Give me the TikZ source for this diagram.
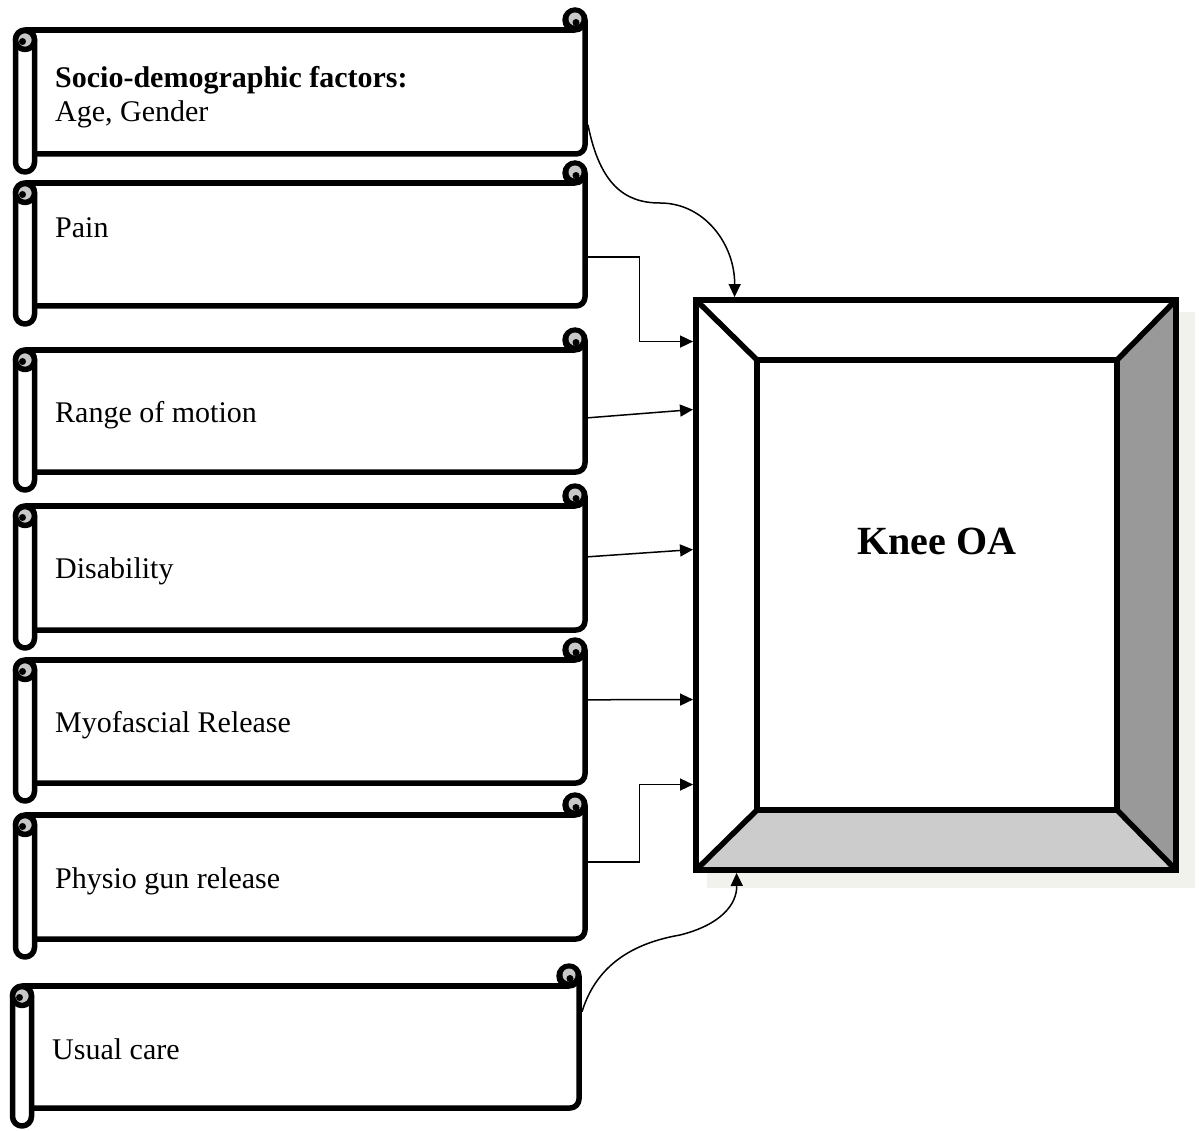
\documentclass[tikz,border=0pt]{standalone}
\usepackage{fontspec}
\setmainfont{Liberation Serif}
\usetikzlibrary{arrows.meta,calc}
\definecolor{curlgray}{RGB}{200,200,200}
\definecolor{sidegray}{RGB}{153,153,153}
\definecolor{botgray}{RGB}{204,204,204}
\definecolor{shadowc}{RGB}{242,242,236}
\tikzset{
  sl/.style={line width=5.5pt, line join=round},
  bev/.style={line width=5.5pt, line join=miter},
  lbl/.style={inner sep=0pt, font=\fontsize{30}{34}\selectfont, anchor=base west},
  conn/.style={line width=1.5pt, -{Triangle[length=13pt,width=12pt]}},
}
% #1 name, #2 roll centre x, #3 right edge x, #4 top y, #5 bottom y
\newcommand{\scrollshape}[5]{%
  \node[inner sep=0pt, minimum width={(#3+2.75-#2-9.5)*1pt}, minimum height={(#5-#4)*1pt}] (#1) at ({(#3+2.75+#2+9.5)/2},{(#4+#5)/2}) {};
  \draw[sl] (#2,#4) -- ({#3-10},#4);
  \draw[sl, rounded corners=9pt] (#3,{#4-10}) -- (#3,#5) -- ({#2+9.5},#5);
  \draw[sl, fill=white, rounded corners=9.5pt] ({#2-9.5},#4) rectangle ({#2+9.5},{#5+18});
  \draw[sl, fill=curlgray] (#2,{#4+10}) circle (9.5);
  \fill ({#2-2.5},{#4+11.5}) circle (3.5);
  \fill ({#3-10},{#4-10}) circle (12.75);
  \fill[curlgray] ({#3-10},{#4-11}) circle (6.5);
  \fill ({#3-9},{#4-7.5}) circle (3.5);
}
\begin{document}
\begin{tikzpicture}[x=1pt,y=-1pt]
\useasboundingbox (0,0) rectangle (1199,1131);

% scrolls
\scrollshape{b1}{25}{585}{30}{154}
\scrollshape{b2}{25}{585}{183}{306}
\scrollshape{b3}{25}{585}{350}{472}
\scrollshape{b4}{25}{585}{506}{630}
\scrollshape{b5}{25}{585}{660}{783}
\scrollshape{b6}{25}{585}{815}{939}
\scrollshape{b7}{22}{579}{986}{1108}

\node[lbl] (t1) at (55,88) {\textbf{Socio-demographic factors:}};
\node[lbl] (t1b) at (55,122) {Age, Gender};
\node[lbl] (t2) at (55,238) {Pain};
\node[lbl] (t3) at (55,422) {Range of motion};
\node[lbl] (t4) at (55,578) {Disability};
\node[lbl] (t5) at (55,732) {Myofascial Release};
\node[lbl] (t6) at (55,888) {Physio gun release};
\node[lbl] (t7) at (52,1059) {Usual care};

% Knee OA bevel box
\fill[shadowc] (707,312) rectangle (1195,888);
\node[inner sep=0pt, minimum width=485.5pt, minimum height=575.5pt] (koa) at (936,585) {};
\fill[white] (696,300) rectangle (1176,870);
\fill[sidegray] (1176,300) -- (1117,360) -- (1117,810) -- (1176,870) -- cycle;
\fill[botgray] (696,870) -- (757,810) -- (1117,810) -- (1176,870) -- cycle;
\draw[bev] (696,300) -- (757,360) (1176,300) -- (1117,360)
           (696,870) -- (757,810) (1176,870) -- (1117,810);
\draw[bev] (757,360) rectangle (1117,810);
\draw[bev] (696,300) rectangle (1176,870);
\node[font=\bfseries\fontsize{40}{48}\selectfont] (kt) at (937,541) {Knee OA};

% connectors
\coordinate (a1s) at ($(b1.north east)+(0,95)$);
\coordinate (a1e) at ($(koa.north west)+(41.5,0)$);
\draw[conn] (a1s) .. controls (600,185) and (625,203) .. (660,203)
                  .. controls (705,203) and (735,245) .. (a1e);

\coordinate (a2s) at ($(b2.north east)+(0,74)$);
\coordinate (a2e) at ($(koa.north west)+(0,44.5)$);
\draw[conn] (a2s) -| ($(a2e)+(-53.5,0)$) -- (a2e);

\coordinate (a3s) at ($(b3.north east)+(0,68)$);
\coordinate (a3e) at ($(koa.north west)+(0,112.5)$);
\draw[conn] (a3s) -- (a3e);

\coordinate (a4s) at ($(b4.north east)+(0,51)$);
\coordinate (a4e) at ($(koa.north west)+(0,252.5)$);
\draw[conn] (a4s) -- (a4e);

\coordinate (a5s) at ($(b5.north east)+(0,40)$);
\coordinate (a5e) at ($(koa.north west)+(0,402.5)$);
\draw[conn] (a5s) -- (a5e);

\coordinate (a6s) at ($(b6.north east)+(0,47)$);
\coordinate (a6e) at ($(koa.north west)+(0,487.5)$);
\draw[conn] (a6s) -| ($(a6e)+(-53.5,0)$) -- (a6e);

\coordinate (a7s) at ($(b7.north east)+(0,26)$);
\coordinate (a7e) at ($(koa.south west)+(43.5,0)$);
\draw[conn] (a7s) .. controls (598,960) and (640,942) .. (680,935)
                  .. controls (720,925) and (737,905) .. (a7e);
\end{tikzpicture}
\end{document}
